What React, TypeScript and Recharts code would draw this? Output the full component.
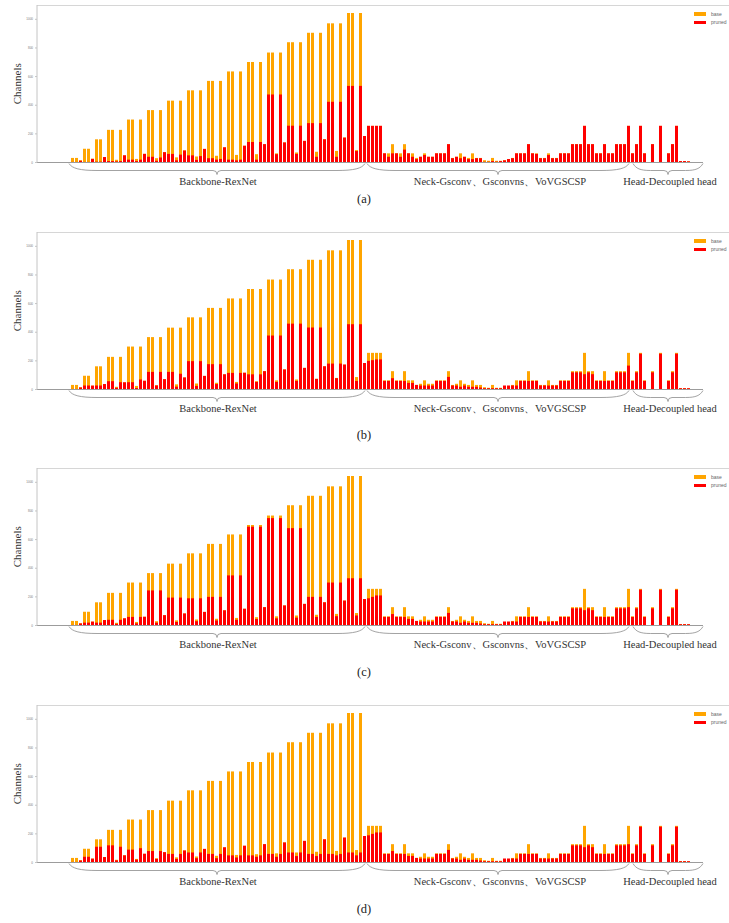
import { Bar, BarChart, Legend, XAxis, YAxis } from "recharts";

const ORANGE = "#FFA500";
const RED = "#FF0000";
const SERIF = "'Liberation Serif', 'Times New Roman', serif";

// channels of every conv layer in the base model (backbone 0-73, neck 74-138, head 139-154)
const baseChannels = [
  32, 32, 16, 96, 96, 27, 162, 162, 38,
  228, 228, 19, 228, 50,
  300, 300, 25, 300, 61,
  366, 366, 30, 366, 72,
  432, 432, 36, 432, 84,
  504, 504, 42, 504, 95,
  570, 570, 47, 570, 106,
  636, 636, 53, 636, 117,
  702, 702, 58, 702, 128,
  768, 768, 64, 768, 140,
  840, 840, 70, 840, 151,
  906, 906, 75, 906, 162,
  972, 972, 81, 972, 174,
  1044, 1044, 87, 1044, 185,
  256, 256, 256, 256,
  64, 64, 128, 64, 64, 128, 64, 64, 32, 40,
  64, 40, 40, 64, 64, 64, 128, 32, 40, 64,
  40, 32, 64, 32, 32, 16, 12, 32, 12, 12,
  16, 24, 32, 64, 64, 64, 128, 64, 64, 32,
  32, 64, 32, 32, 64, 64, 64, 128, 128, 128,
  256, 128, 128, 64, 64, 128, 64, 64, 128, 128,
  128, 256, 64, 128, 256, 64, 2, 128, 2, 256,
  2, 64, 128, 256, 10, 10, 8,
];

const prunedA = [
  4, 4, 12, 4, 4, 25, 6, 6, 38,
  10, 10, 8, 10, 50,
  20, 20, 10, 20, 60,
  40, 40, 12, 35, 72,
  60, 60, 15, 55, 84,
  50, 50, 18, 45, 95,
  30, 30, 20, 25, 106,
  20, 20, 15, 20, 117,
  143, 143, 20, 143, 128,
  475, 475, 58, 475, 140,
  257, 257, 60, 257, 151,
  275, 275, 40, 275, 162,
  424, 424, 40, 424, 174,
  535, 535, 80, 535, 185,
  256, 256, 256, 256,
  64, 40, 64, 64, 40, 90, 64, 40, 24, 40,
  52, 40, 40, 64, 64, 64, 128, 30, 40, 30,
  40, 24, 24, 30, 30, 5, 5, 10, 6, 10,
  15, 24, 30, 64, 64, 64, 128, 64, 60, 30,
  30, 52, 30, 30, 64, 64, 64, 128, 128, 128,
  256, 128, 128, 64, 64, 128, 64, 64, 128, 128,
  128, 256, 64, 128, 256, 64, 0, 128, 0, 256,
  0, 64, 128, 256, 10, 10, 8,
];

const prunedB = [
  4, 4, 14, 28, 28, 27, 28, 28, 38,
  58, 58, 12, 51, 50,
  51, 51, 10, 70, 61,
  123, 123, 28, 123, 72,
  123, 123, 20, 110, 84,
  198, 198, 25, 198, 95,
  177, 177, 38, 177, 106,
  116, 116, 42, 116, 117,
  106, 106, 53, 106, 128,
  377, 377, 53, 377, 140,
  460, 460, 60, 460, 151,
  433, 433, 74, 433, 162,
  181, 181, 79, 181, 174,
  456, 456, 60, 456, 185,
  200, 205, 210, 210,
  60, 60, 79, 60, 60, 60, 46, 46, 32, 28,
  28, 28, 28, 60, 60, 60, 88, 28, 28, 19,
  28, 19, 19, 19, 14, 9, 9, 9, 9, 9,
  28, 28, 28, 28, 60, 60, 60, 60, 60, 28,
  28, 28, 28, 28, 60, 60, 60, 120, 120, 120,
  107, 120, 107, 60, 60, 60, 60, 60, 120, 120,
  120, 167, 60, 120, 250, 60, 0, 120, 0, 250,
  0, 60, 120, 250, 9, 9, 9,
];

const prunedC = [
  4, 4, 14, 20, 20, 27, 20, 20, 38,
  40, 40, 12, 40, 50,
  60, 60, 15, 60, 61,
  245, 245, 20, 245, 72,
  195, 195, 25, 195, 84,
  190, 190, 30, 190, 95,
  200, 200, 35, 200, 106,
  350, 350, 40, 350, 117,
  690, 690, 45, 690, 128,
  750, 750, 50, 750, 140,
  680, 680, 55, 680, 151,
  200, 200, 60, 200, 162,
  300, 300, 65, 300, 174,
  330, 330, 70, 330, 185,
  190, 200, 210, 210,
  60, 60, 80, 60, 60, 60, 46, 46, 32, 28,
  28, 28, 28, 60, 60, 60, 88, 28, 28, 19,
  28, 19, 19, 19, 14, 9, 9, 9, 9, 9,
  28, 28, 28, 28, 60, 60, 60, 60, 60, 28,
  28, 28, 28, 28, 60, 60, 60, 120, 120, 120,
  107, 120, 107, 60, 60, 60, 60, 60, 120, 120,
  120, 128, 60, 120, 250, 60, 0, 120, 0, 250,
  0, 60, 120, 250, 9, 9, 9,
];

const prunedD = [
  4, 4, 14, 40, 40, 27, 110, 110, 38,
  120, 120, 15, 110, 50,
  90, 90, 20, 100, 61,
  80, 80, 25, 80, 72,
  60, 60, 25, 60, 84,
  70, 70, 30, 70, 95,
  60, 60, 30, 60, 106,
  50, 50, 35, 50, 117,
  50, 50, 40, 50, 128,
  60, 60, 40, 60, 140,
  70, 70, 45, 70, 151,
  60, 60, 45, 60, 162,
  60, 60, 50, 60, 174,
  70, 70, 50, 70, 185,
  190, 200, 210, 210,
  60, 60, 80, 60, 60, 60, 46, 46, 32, 28,
  28, 28, 28, 60, 60, 60, 88, 28, 28, 19,
  28, 19, 19, 19, 14, 9, 9, 9, 9, 9,
  28, 28, 28, 28, 60, 60, 60, 60, 60, 28,
  28, 28, 28, 28, 60, 60, 60, 120, 120, 120,
  107, 120, 107, 60, 60, 60, 60, 60, 120, 120,
  120, 128, 60, 120, 250, 60, 0, 120, 0, 250,
  0, 60, 120, 250, 9, 9, 9,
];

const layerIds = baseChannels.map((_, i) => i + 1);
const yTicks = [0, 200, 400, 600, 800, 1000];

const sections = [
  { label: "Backbone-RexNet", x1: 69, x2: 365, labelX: 218 },
  { label: "Neck-Gsconv、Gsconvns、VoVGSCSP", x1: 367, x2: 629, labelX: 500 },
  { label: "Head-Decoupled head", x1: 633, x2: 703, labelX: 670 },
];

const panels = [
  { caption: "(a)", top: 0, captionY: 203, pruned: prunedA },
  { caption: "(b)", top: 227, captionY: 439, pruned: prunedB },
  { caption: "(c)", top: 463, captionY: 676, pruned: prunedC },
  { caption: "(d)", top: 700, captionY: 913, pruned: prunedD },
];

function bracePath(x1: number, x2: number, y0: number) {
  const yf = y0 + 7;
  const yc = y0 + 11;
  const xm = (x1 + x2) / 2;
  const q = Math.min(28, (x2 - x1) / 4);
  return (
    `M${x1},${y0} C${x1 + 3},${y0 + 5} ${x1 + q * 0.4},${yf} ${x1 + q},${yf} ` +
    `L${xm - 4},${yf} Q${xm},${yf} ${xm},${yc} Q${xm},${yf} ${xm + 4},${yf} ` +
    `L${x2 - q},${yf} C${x2 - q * 0.4},${yf} ${x2 - 3},${y0 + 5} ${x2},${y0}`
  );
}

function LegendBox({ payload }: any) {
  return (
    <div style={{ fontFamily: "Arial, sans-serif", fontSize: 5, color: "#666" }}>
      {(payload || []).map((entry: any) => (
        <div key={entry.value} style={{ display: "flex", alignItems: "center", height: 8.5 }}>
          <span style={{ display: "inline-block", width: 12, height: 3.5, background: entry.color, marginRight: 5 }} />
          <span>{entry.value}</span>
        </div>
      ))}
    </div>
  );
}

function ChannelPanel({ top, pruned, caption, captionY }: { top: number; pruned: number[]; caption: string; captionY: number }) {
  const data = layerIds.map((id, i) => ({ id, base: baseChannels[i], pruned: pruned[i] }));
  return (
    <div style={{ position: "absolute", left: 0, top, width: 729, height: 200 }}>
      <div style={{ position: "absolute", left: 37, top: 5, width: 692, borderTop: "1px solid #d6d6d6" }} />
      <BarChart
        width={729}
        height={168}
        data={data}
        margin={{ top: 5, right: 26, bottom: 4.5, left: 0 }}
        barGap={-3}
      >
        <XAxis
          dataKey="id"
          height={1}
          tick={false}
          tickLine={false}
          interval={0}
          axisLine={{ stroke: "#9c9c9c", strokeWidth: 1 }}
          padding={{ left: 33, right: 13 }}
        />
        <YAxis
          width={37}
          domain={[0, 1100]}
          ticks={yTicks}
          interval={0}
          tick={{ fontSize: 3, fill: "#777", fontFamily: "Arial, sans-serif" }}
          tickSize={2}
          tickLine={{ stroke: "#c4c4c4" }}
          axisLine={{ stroke: "#c4c4c4" }}
          label={{
            value: "Channels",
            angle: -90,
            position: "center",
            dx: -1.5,
            style: { fontFamily: SERIF, fontSize: 11, fill: "#333" },
          }}
        />
        <Bar dataKey="base" name="base" fill={ORANGE} barSize={3} isAnimationActive={false} />
        <Bar dataKey="pruned" name="pruned" fill={RED} barSize={3} isAnimationActive={false} />
        <Legend
          layout="vertical"
          align="center"
          verticalAlign="middle"
          wrapperStyle={{ left: 694, top: 9.5, width: 40 }}
          content={<LegendBox />}
        />
      </BarChart>
      <svg
        width={729}
        height={230}
        style={{ position: "absolute", left: 0, top: 0, pointerEvents: "none", overflow: "visible" }}
      >
        {sections.map((s) => (
          <g key={s.label}>
            <path d={bracePath(s.x1, s.x2, 163.5)} fill="none" stroke="#8c8c8c" strokeWidth={0.8} />
            <text x={s.labelX} y={184.5} textAnchor="middle" fontFamily={SERIF} fontSize={10.5} fill="#333">
              {s.label}
            </text>
          </g>
        ))}
        <text x={364} y={captionY - top} textAnchor="middle" fontFamily={SERIF} fontSize={12.5} fill="#222">
          {caption}
        </text>
      </svg>
    </div>
  );
}

export default function App() {
  return (
    <div style={{ position: "absolute", left: 0, top: 0, width: 729, height: 923, background: "#fff", overflow: "hidden" }}>
      {panels.map((p) => (
        <ChannelPanel key={p.caption} top={p.top} pruned={p.pruned} caption={p.caption} captionY={p.captionY} />
      ))}
    </div>
  );
}
